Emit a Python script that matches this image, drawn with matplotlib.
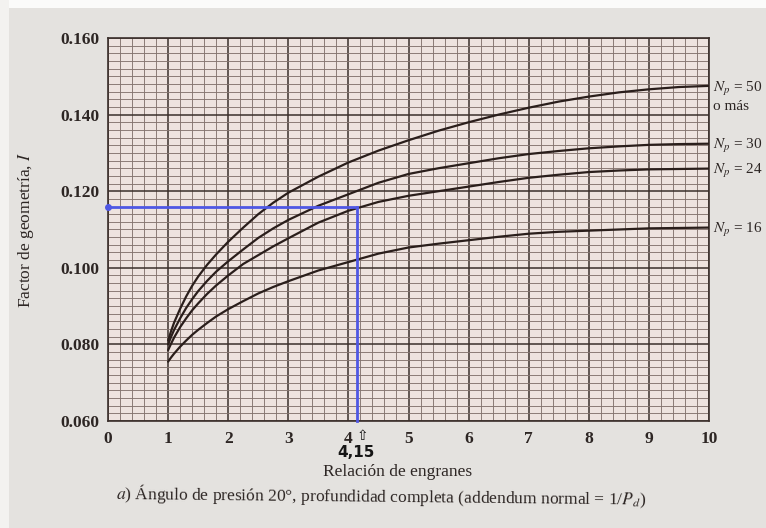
import numpy as np
import matplotlib
matplotlib.use("Agg")
import matplotlib.pyplot as plt
from matplotlib.patches import Rectangle

plt.rcParams["font.family"] = ["Liberation Serif", "DejaVu Serif"]
plt.rcParams["mathtext.fontset"] = "stix"

# Gear ratio (relación de engranes) sample positions
ratio = [1.0, 1.05, 1.1, 1.2, 1.3, 1.4, 1.5, 1.65, 1.8, 2.0, 2.25, 2.5, 2.75,
         3.0, 3.5, 4.0, 4.5, 5.0, 5.5, 6.0, 6.5, 7.0, 7.5, 8.0, 8.5, 9.0,
         9.5, 10.0]

# Geometry factor I for each pinion tooth count
i_np50 = [0.0810, 0.0835, 0.0857, 0.0893, 0.0925, 0.0953, 0.0977, 0.1008,
          0.1035, 0.1068, 0.1105, 0.1140, 0.1170, 0.1196, 0.1238, 0.1275,
          0.1306, 0.1333, 0.1358, 0.1380, 0.1400, 0.1418, 0.1434, 0.1447,
          0.1458, 0.1466, 0.1472, 0.1475]
i_np30 = [0.0800, 0.0820, 0.0838, 0.0868, 0.0895, 0.0918, 0.0939, 0.0966,
          0.0990, 0.1017, 0.1048, 0.1078, 0.1103, 0.1125, 0.1162, 0.1192,
          0.1222, 0.1245, 0.1260, 0.1273, 0.1286, 0.1297, 0.1305, 0.1312,
          0.1317, 0.1321, 0.1323, 0.1324]
i_np24 = [0.0785, 0.0802, 0.0818, 0.0845, 0.0868, 0.0889, 0.0907, 0.0932,
          0.0954, 0.0980, 0.1010, 0.1033, 0.1056, 0.1077, 0.1118, 0.1149,
          0.1172, 0.1188, 0.1200, 0.1212, 0.1224, 0.1235, 0.1243, 0.1250,
          0.1254, 0.1257, 0.1258, 0.1259]
i_np16 = [0.0755, 0.0766, 0.0776, 0.0794, 0.0810, 0.0825, 0.0838, 0.0856,
          0.0873, 0.0892, 0.0913, 0.0933, 0.0950, 0.0965, 0.0993, 0.1015,
          0.1037, 0.1053, 0.1063, 0.1072, 0.1081, 0.1089, 0.1094, 0.1097,
          0.1100, 0.1103, 0.1104, 0.1105]

curve_labels = ["$N_p$ = 50", "$N_p$ = 30", "$N_p$ = 24", "$N_p$ = 16"]

x_ticks = [0, 1, 2, 3, 4, 5, 6, 7, 8, 9, 10]
y_ticks = [0.060, 0.080, 0.100, 0.120, 0.140, 0.160]

# Worked example: ratio 4.15 read on the N_p = 24 curve
example_ratio = 4.15
example_i = 0.116

W, H = 766, 528
fig = plt.figure(figsize=(W / 100, H / 100), dpi=100)
fig.patch.set_facecolor("#e4e2df")
# light margins of the page
fig.patches.append(Rectangle((0, 1 - 8 / H), 1, 8 / H, transform=fig.transFigure,
                             facecolor="#fbfbfa", edgecolor="none", zorder=0))
fig.patches.append(Rectangle((0, 0), 9 / W, 1, transform=fig.transFigure,
                             facecolor="#f3f2f0", edgecolor="none", zorder=0))

left, right, top, bottom = 108, 709, 38, 421
ax = fig.add_axes([left / W, 1 - bottom / H, (right - left) / W, (bottom - top) / H])
ax.set_facecolor("#eee3df")
ax.set_xlim(0, 10)
ax.set_ylim(0.060, 0.160)

ax.set_xticks(x_ticks)
ax.set_yticks(y_ticks)
ax.set_xticks(np.arange(0, 10.001, 0.2), minor=True)
ax.set_yticks(np.arange(0.060, 0.16001, 0.002), minor=True)
ax.set_xticklabels([str(v) for v in x_ticks])
ax.set_yticklabels([f"{v:.3f}" for v in y_ticks])
ax.grid(which="major", color="#3b2f2b", lw=1.1)
ax.grid(which="minor", color="#85746f", lw=0.65)
ax.set_axisbelow(True)
ax.tick_params(which="both", length=0)
ax.tick_params(axis="x", pad=7, labelsize=12.5, labelcolor="#2d2624")
ax.tick_params(axis="y", pad=6, labelsize=12.5, labelcolor="#2d2624")
for lab in ax.get_xticklabels() + ax.get_yticklabels():
    lab.set_fontweight("bold")
for s in ax.spines.values():
    s.set_color("#3b2f2b")
    s.set_linewidth(1.2)

for series in (i_np50, i_np30, i_np24, i_np16):
    ax.plot(ratio, series, color="#2a1e1b", lw=1.6, solid_capstyle="round",
            solid_joinstyle="round", zorder=3)

# labels at the right end of each curve
for lab, series in zip(curve_labels, (i_np50, i_np30, i_np24, i_np16)):
    ax.annotate(lab, xy=(10, series[-1]), xytext=(3, -2), textcoords="offset points",
                ha="left", va="center", fontsize=11, color="#2d2624",
                annotation_clip=False)
ax.annotate("o más", xy=(10, i_np50[-1]), xytext=(3, -15), textcoords="offset points",
            ha="left", va="center", fontsize=11, color="#2d2624",
            annotation_clip=False)

# worked example lines
blue = "#4f57e4"
ax.plot([0, example_ratio], [example_i, example_i], color=blue, lw=2.0, zorder=4,
        clip_on=False)
ax.plot([example_ratio, example_ratio], [example_i, 0.060], color=blue, lw=2.0,
        zorder=4, clip_on=False)
ax.plot([0], [example_i], marker="o", ms=4, color=blue, zorder=5, clip_on=False)

ax.annotate("⇧", xy=(example_ratio, 0), xycoords=("data", "axes fraction"),
            xytext=(3.5, -11), textcoords="offset points", ha="center", va="center",
            fontsize=10, family=["DejaVu Sans"], color="#111111",
            annotation_clip=False)
ax.annotate("4,15", xy=(example_ratio, 0), xycoords=("data", "axes fraction"),
            xytext=(-1, -23), textcoords="offset points", ha="center", va="center",
            fontsize=11, fontweight="bold", family=["DejaVu Sans"], color="#151515",
            annotation_clip=False)

ax.set_xlabel("Relación de engranes", fontsize=12.5, color="#2d2624")
ax.xaxis.set_label_coords(0.482, -(464 - bottom) / (bottom - top))
ax.set_ylabel("Factor de geometría, $I$", fontsize=12.5, color="#2d2624")
ax.yaxis.set_label_coords(-(left - 36) / (right - left), 0.5)

fig.text(381 / W, 1 - 496 / H,
         "$a$) Ángulo de presión 20°, profundidad completa (addendum normal = 1/$P_d$)",
         ha="center", va="center", fontsize=12.5, color="#2d2624", rotation=-0.6)

fig.savefig("out.png", dpi=100, facecolor=fig.get_facecolor())
